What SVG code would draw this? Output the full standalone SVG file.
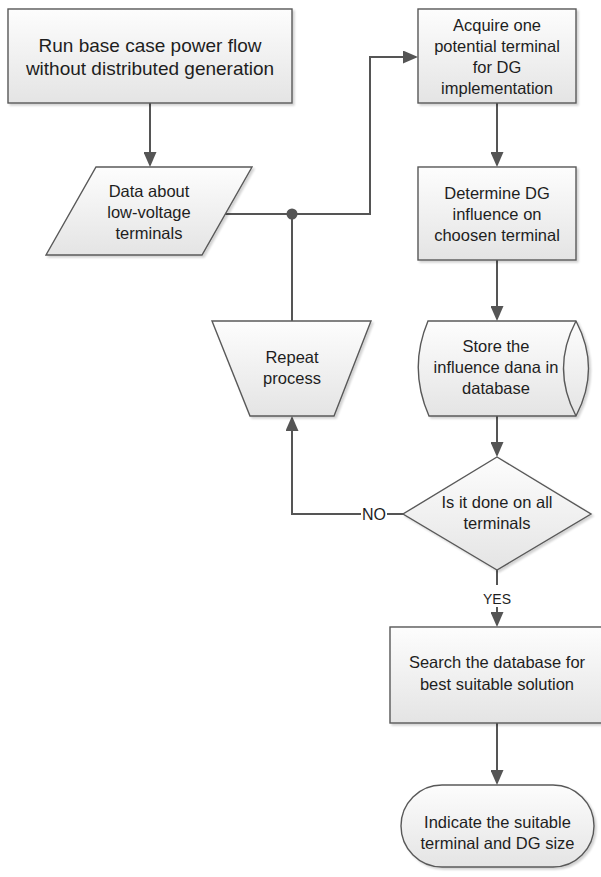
<svg xmlns="http://www.w3.org/2000/svg" width="601" height="877" viewBox="0 0 601 877">
<style>
.shape{fill:url(#grad);stroke:#595959;stroke-width:1.4;filter:url(#shadow)}
.conn{fill:none;stroke:#555;stroke-width:2}
text{font-family:"Liberation Sans",Arial,sans-serif;font-size:16.5px;fill:#1e1e1e;text-anchor:middle}
.big{font-size:19px}
.lbl{font-size:14px}
.no{font-size:16px}
</style>
<defs>
<linearGradient id="grad" x1="0" y1="0" x2="0" y2="1">
<stop offset="0" stop-color="#fdfdfd"/>
<stop offset="1" stop-color="#e4e4e4"/>
</linearGradient>
<filter id="shadow" x="-10%" y="-10%" width="125%" height="125%">
<feGaussianBlur in="SourceAlpha" stdDeviation="1.2"/>
<feOffset dx="2" dy="2" result="b"/>
<feComponentTransfer><feFuncA type="linear" slope="0.18"/></feComponentTransfer>
<feMerge><feMergeNode/><feMergeNode in="SourceGraphic"/></feMerge>
</filter>
<marker id="arr" viewBox="0 0 15 13" refX="13" refY="6.5" markerWidth="15" markerHeight="13" orient="auto" markerUnits="userSpaceOnUse">
<path d="M0,0 L15,6.5 L0,13 z" fill="#555"/>
</marker>
</defs>
<rect width="601" height="877" fill="#fff"/>

<g id="connectors">
<path class="conn" d="M150,103 V165" marker-end="url(#arr)"/>
<path class="conn" d="M225,214 H370 V57 H416" marker-end="url(#arr)"/>
<path class="conn" d="M292,214 V321"/>
<circle cx="292" cy="214" r="5.5" fill="#555"/>
<path class="conn" d="M497,103 V165" marker-end="url(#arr)"/>
<path class="conn" d="M497,260 V319" marker-end="url(#arr)"/>
<path class="conn" d="M497,416 V455" marker-end="url(#arr)"/>
<path class="conn" d="M497,570 V585"/>
<path class="conn" d="M497,607 V625" marker-end="url(#arr)"/>
<text class="lbl" x="497" y="604">YES</text>
<path class="conn" d="M497,723 V783" marker-end="url(#arr)"/>
<path class="conn" d="M403,514 H387"/>
<text class="no" x="374" y="520">NO</text>
<path class="conn" d="M361,514 H292 V418" marker-end="url(#arr)"/>
</g>

<g id="n1">
<rect class="shape" x="8" y="9" width="284" height="94"/>
<text class="big" x="150" y="52">Run base case power flow</text>
<text class="big" x="150" y="75">without distributed generation</text>
</g>

<g id="n2">
<polygon class="shape" points="96,167 252,167 202,255 46,255"/>
<text x="149" y="197">Data about</text>
<text x="149" y="218">low-voltage</text>
<text x="149" y="239">terminals</text>
</g>

<g id="n3">
<rect class="shape" x="418" y="9" width="158" height="94"/>
<text x="497" y="31">Acquire one</text>
<text x="497" y="52">potential terminal</text>
<text x="497" y="73">for DG</text>
<text x="497" y="94">implementation</text>
</g>

<g id="n4">
<rect class="shape" x="418" y="167" width="158" height="93"/>
<text x="497" y="199">Determine DG</text>
<text x="497" y="220">influence on</text>
<text x="497" y="241">choosen terminal</text>
</g>

<g id="n5">
<path class="shape" d="M428,321 H576 Q601,368.5 576,416 H429 Q408,368.5 428,321 Z"/>
<path d="M576,321 Q551,368.5 576,416" fill="none" stroke="#595959" stroke-width="1.4"/>
<text x="496" y="352">Store the</text>
<text x="496" y="373">influence dana in</text>
<text x="496" y="394">database</text>
</g>

<g id="n6">
<polygon class="shape" points="212,321 371,321 334,416 250,416"/>
<text x="292" y="363">Repeat</text>
<text x="292" y="384">process</text>
</g>

<g id="n7">
<polygon class="shape" points="497,457 591,514 497,570 403,514"/>
<text x="497" y="508">Is it done on all</text>
<text x="497" y="529">terminals</text>
</g>

<g id="n8">
<rect class="shape" x="390" y="627" width="214" height="96"/>
<text x="497" y="668">Search the database for</text>
<text x="497" y="690">best suitable solution</text>
</g>

<g id="n9">
<rect class="shape" x="401" y="785" width="193" height="82" rx="41" ry="41"/>
<text x="497.5" y="828">Indicate the suitable</text>
<text x="497.5" y="849">terminal and DG size</text>
</g>
</svg>
